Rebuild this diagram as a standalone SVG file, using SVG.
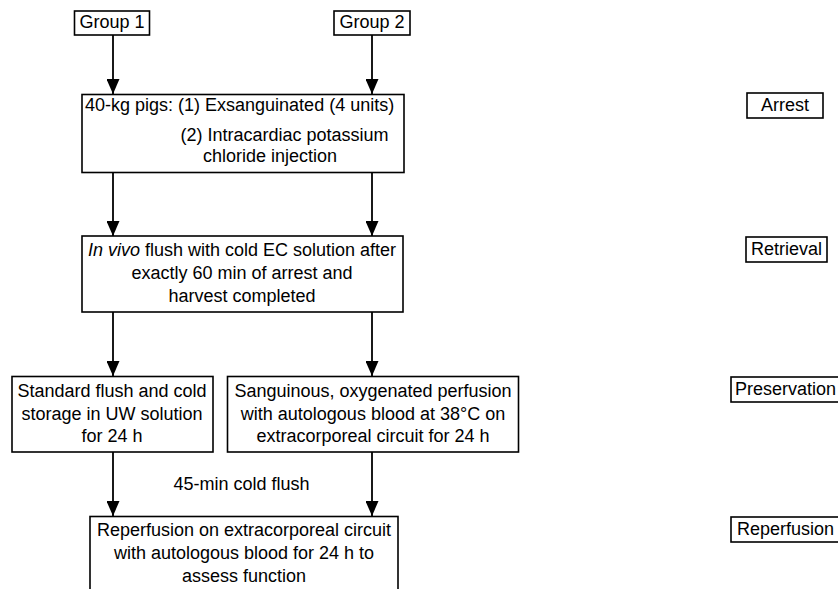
<svg xmlns="http://www.w3.org/2000/svg" width="838" height="589" viewBox="0 0 838 589">
<style>
  .box { fill: #ffffff; stroke: #000000; stroke-width: 1.6; }
  .t { font-family: "Liberation Sans", Arial, sans-serif; font-size: 18px; fill: #000000; }
  .m { text-anchor: middle; }
  .conn { stroke: #000000; stroke-width: 1.8; fill: none; marker-end: url(#arrow); }
</style>
<defs>
  <marker id="arrow" markerUnits="userSpaceOnUse" markerWidth="15" markerHeight="13" refX="15" refY="6.5" orient="auto">
    <path d="M0,0 L15,6.5 L0,13 Z" fill="#000000"/>
  </marker>
</defs>
<rect width="838" height="589" fill="#ffffff"/>

<g id="connectors">
  <line class="conn" x1="113" y1="35" x2="113" y2="94"/>
  <line class="conn" x1="372" y1="35" x2="372" y2="94"/>
  <line class="conn" x1="113" y1="173" x2="113" y2="236"/>
  <line class="conn" x1="372" y1="173" x2="372" y2="236"/>
  <line class="conn" x1="113" y1="312" x2="113" y2="376"/>
  <line class="conn" x1="372" y1="312" x2="372" y2="376"/>
  <line class="conn" x1="113" y1="452" x2="113" y2="516"/>
  <line class="conn" x1="372" y1="452" x2="372" y2="516"/>
  <text class="t m" x="241.5" y="490">45-min cold flush</text>
</g>

<g id="group1">
  <rect class="box" x="74.5" y="11" width="75" height="24"/>
  <text class="t m" x="112" y="28">Group 1</text>
</g>
<g id="group2">
  <rect class="box" x="334" y="11" width="76" height="24"/>
  <text class="t m" x="372" y="28">Group 2</text>
</g>

<g id="arrest-step">
  <rect class="box" x="82" y="94.5" width="322" height="78"/>
  <text class="t" x="85" y="111">40-kg pigs: (1) Exsanguinated (4 units)</text>
  <text class="t m" x="284.5" y="141">(2) Intracardiac potassium</text>
  <text class="t m" x="270" y="162">chloride injection</text>
</g>

<g id="retrieval-step">
  <rect class="box" x="82" y="236" width="321" height="76"/>
  <text class="t m" x="242" y="256"><tspan font-style="italic">In vivo</tspan> flush with cold EC solution after</text>
  <text class="t m" x="242" y="279">exactly 60 min of arrest and</text>
  <text class="t m" x="242" y="302">harvest completed</text>
</g>

<g id="cold-storage">
  <rect class="box" x="12" y="376.5" width="201" height="75.5"/>
  <text class="t m" x="112" y="397">Standard flush and cold</text>
  <text class="t m" x="112" y="420">storage in UW solution</text>
  <text class="t m" x="112" y="442">for 24 h</text>
</g>

<g id="perfusion">
  <rect class="box" x="227.5" y="376.5" width="291" height="75.5"/>
  <text class="t m" x="373" y="397">Sanguinous, oxygenated perfusion</text>
  <text class="t m" x="373" y="420">with autologous blood at 38°C on</text>
  <text class="t m" x="373" y="442">extracorporeal circuit for 24 h</text>
</g>

<g id="reperfusion-step">
  <rect class="box" x="90" y="516.5" width="308" height="90"/>
  <text class="t m" x="244" y="536">Reperfusion on extracorporeal circuit</text>
  <text class="t m" x="244" y="559">with autologous blood for 24 h to</text>
  <text class="t m" x="244" y="582">assess function</text>
</g>

<g id="label-arrest">
  <rect class="box" x="747" y="93" width="76" height="25"/>
  <text class="t m" x="785" y="111">Arrest</text>
</g>
<g id="label-retrieval">
  <rect class="box" x="746" y="237" width="81" height="25"/>
  <text class="t m" x="786.5" y="255">Retrieval</text>
</g>
<g id="label-preservation">
  <rect class="box" x="731" y="377" width="120" height="25"/>
  <text class="t" x="735" y="395">Preservation</text>
</g>
<g id="label-reperfusion">
  <rect class="box" x="731" y="517" width="120" height="25"/>
  <text class="t" x="737" y="535">Reperfusion</text>
</g>
</svg>
